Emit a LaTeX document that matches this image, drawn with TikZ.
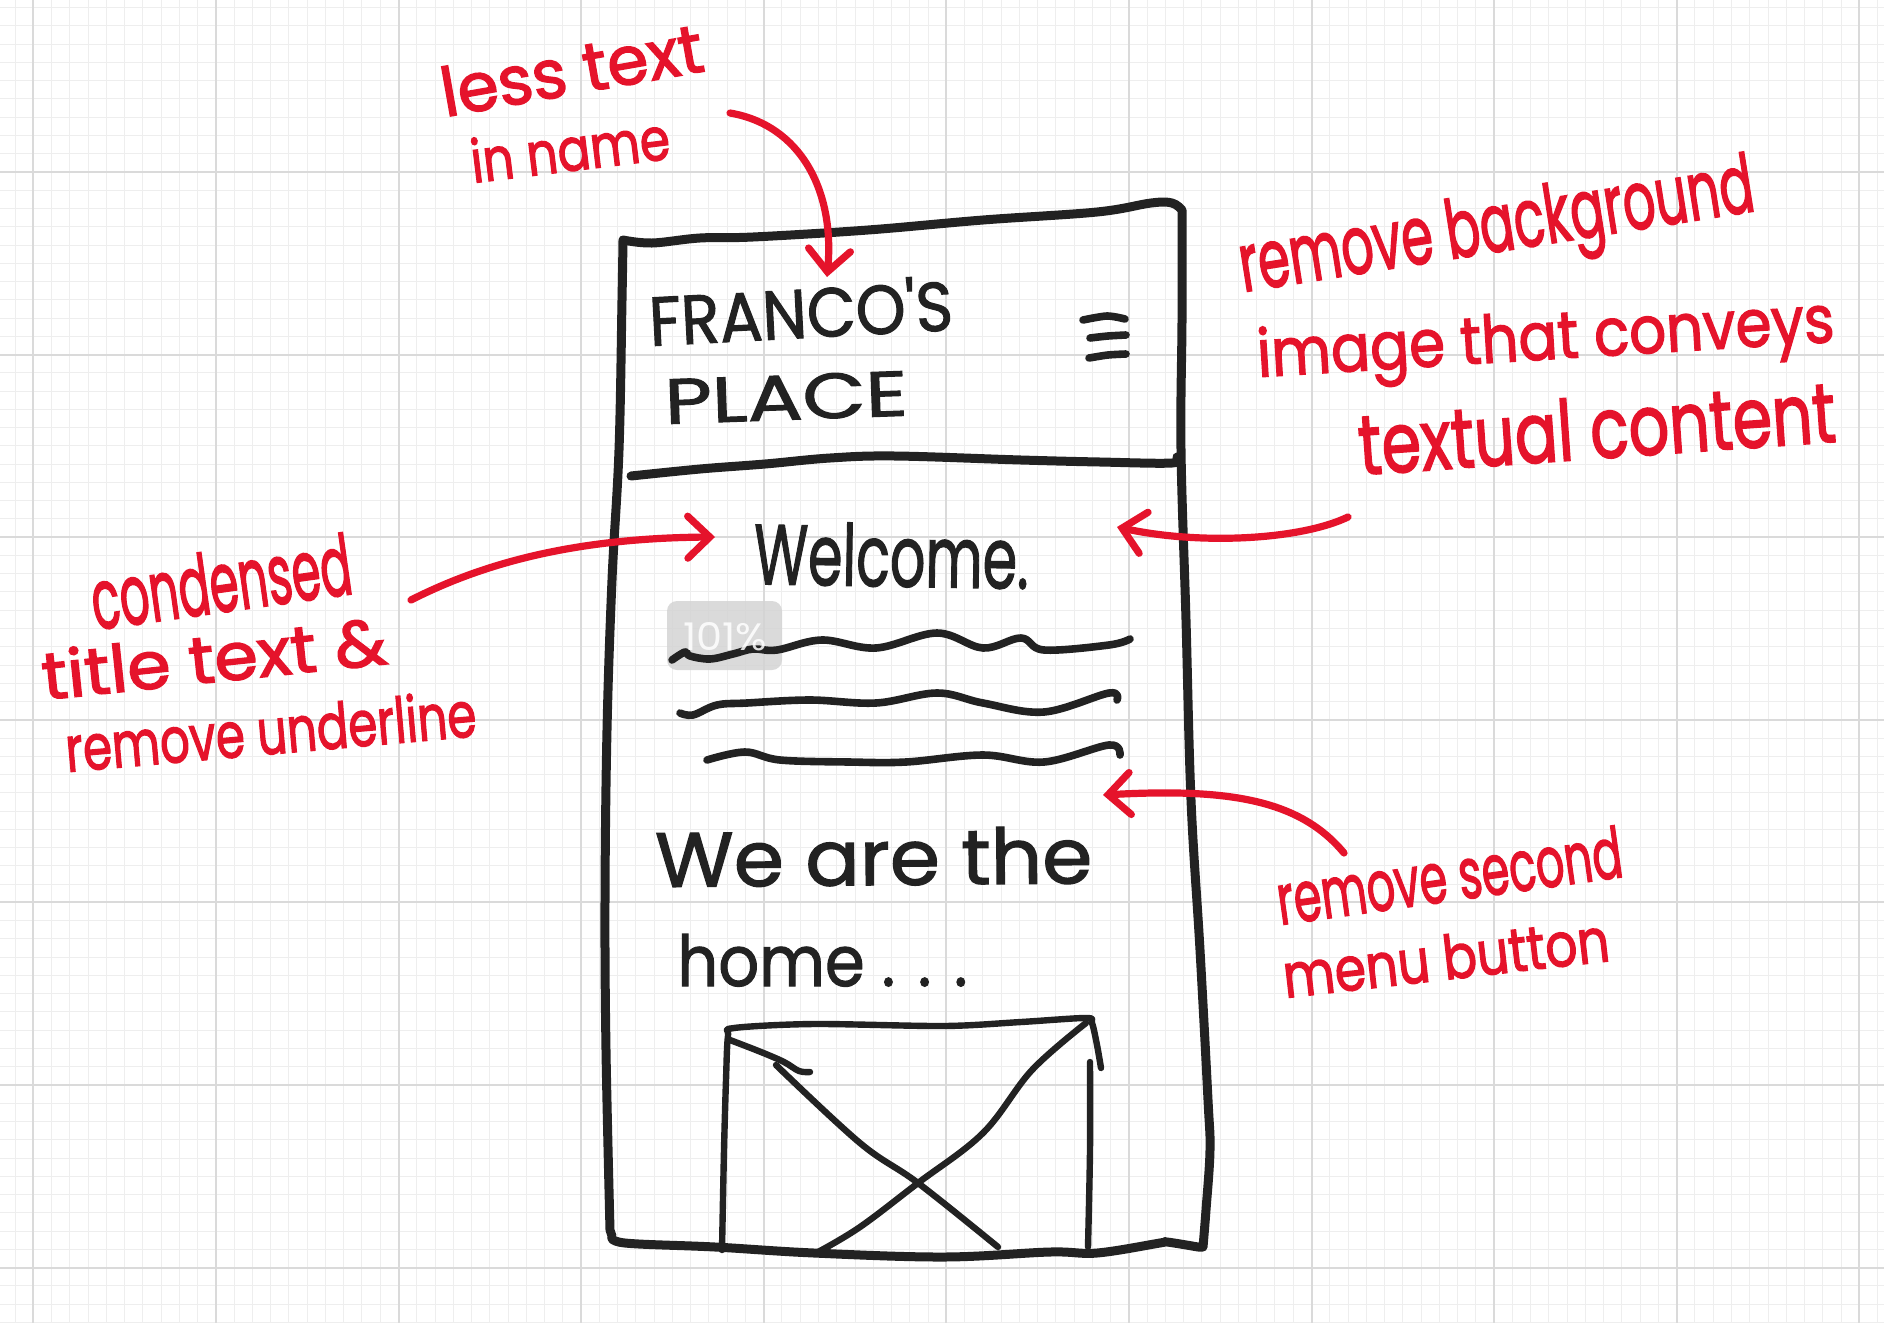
\documentclass[tikz,border=0pt]{standalone}
\usepackage{fontspec}
\setmainfont{Poppins}
\newfontfamily\markerfont{Poppins}[FakeBold=2.2]
\newfontfamily\penfont{Poppins}[FakeBold=1.6]
\usepackage{graphicx}
\usetikzlibrary{arrows.meta}

\definecolor{ink}{HTML}{222222}
\definecolor{marker}{HTML}{E5132B}
\definecolor{gridmajor}{HTML}{DADADA}
\definecolor{gridminor}{HTML}{EEEEEE}

% one drawing unit = 0.5pt; text is fitted to a given width and height in those units
\newdimen\pxu \pxu=0.5pt
\newcommand\fitbox[3]{\resizebox{#1\pxu}{#2\pxu}{#3}}

\tikzset{
  frameline/.style={draw=ink, line width=4.5pt, line cap=round, line join=round},
  boxline/.style={draw=ink, line width=3.2pt, line cap=round, line join=round},
  waveline/.style={draw=ink, line width=3.8pt, line cap=round, line join=round},
  hand/.style={text=ink, inner sep=0pt, anchor=base west, font=\penfont},
  note/.style={text=marker, inner sep=0pt, anchor=base west, font=\markerfont},
  callout/.style={draw=marker, line width=3.6pt, line cap=round, line join=round,
    -{Straight Barb[length=11pt,width=21pt,line cap=round]}},
}

\begin{document}
\begin{tikzpicture}[x=0.5pt,y=-0.5pt]
\useasboundingbox (0,0) rectangle (1884,1323);
\fill[white] (0,0) rectangle (1884,1323);

% squared paper
\foreach \i in {0,...,102} \draw[gridminor, line width=0.5pt] ({15.04+\i*18.26},0) -- ++(0,1323);
\foreach \i in {0,...,72} \draw[gridminor, line width=0.5pt] (0,{7.66+\i*18.26}) -- ++(1884,0);
\foreach \k in {0,...,10} \draw[gridmajor, line width=1pt] ({33.3+\k*182.6},0) -- ++(0,1323);
\foreach \k in {1,...,7} \draw[gridmajor, line width=1pt] (0,{-10.6+\k*182.6}) -- ++(1884,0);

% phone outline
\draw[frameline]
  plot[smooth, tension=0.6] coordinates {(623,240) (652,243) (700,238) (753,237) (868,230) (983,220) (1097,212) (1151,203) (1172,203) (1182,210)}
  -- plot[smooth, tension=0.6] coordinates {(1182,214) (1182,320) (1181,450) (1186,620) (1191,800) (1200,950) (1208,1100) (1210,1150) (1206,1210) (1203,1247)}
  -- plot[smooth, tension=0.6] coordinates {(1198,1247) (1167,1242) (1160,1243) (1097,1253) (1050,1252) (944,1257) (814,1253) (715,1247) (625,1243) (612,1236)}
  -- plot[smooth, tension=0.6] coordinates {(610,1230) (606,1050) (605,900) (607,730) (612,580) (619,450) (622,300) (623,240)};

% header divider
\draw[frameline] plot[smooth, tension=0.6] coordinates {(631,476) (700,469) (765,464) (830,458) (895,456) (1021,460) (1100,462) (1172,463) (1177,457)};

% menu icon
\draw[waveline] plot[smooth] coordinates {(1083,320) (1107,316) (1125,319)};
\draw[waveline] plot[smooth] coordinates {(1090,338) (1108,336) (1126,335)};
\draw[waveline] plot[smooth] coordinates {(1089,358) (1108,355) (1126,354)};

% header and body text
\node[hand, rotate=3] (franco) at (650,346) {\fitbox{304}{55}{FRANCO'S}};
\node[hand, rotate=2] (place) at (665,424) {\fitbox{243}{45}{PLACE}};
\node[hand, rotate=-1] (welcome) at (753,584) {\fitbox{275}{63}{Welcome.}};

% zoom badge
\fill[black!17, fill opacity=0.85, rounded corners=5pt] (667,601) rectangle (782,670);

% paragraph squiggles
\draw[waveline] plot[smooth, tension=0.6] coordinates {(672,660) (685,652) (690,656) (710,659) (733,654) (753,649) (777,650) (822,640) (876,648) (937,633) (983,648) (1021,638) (1044,650) (1109,645) (1130,639)};
\draw[waveline] plot[smooth, tension=0.6] coordinates {(680,713) (693,715) (717,705) (747,703) (810,700) (876,703) (937,693) (983,703) (1044,712) (1109,693) (1117,700)};
\draw[waveline] plot[smooth, tension=0.6] coordinates {(707,760) (745,752) (780,760) (849,762) (906,762) (983,755) (1044,762) (1109,745) (1120,755)};

\node[text=white, text opacity=0.85, inner sep=0pt] (zoomLabel) at (725,637) {\fitbox{84}{28}{101\%}};

\node[hand, rotate=0.5] (weAre) at (655,887) {\fitbox{437}{57}{We are the}};
\node[hand] (home) at (677,986) {\fitbox{290}{52}{home . . .}};

% image placeholder
\draw[boxline] plot[smooth, tension=0.5] coordinates {(722,1250) (724,1150) (726,1080) (728,1036) (734,1028) (814,1024) (944,1026) (1021,1022) (1086,1018) (1092,1023) (1097,1045) (1101,1068)};
\draw[boxline] plot[smooth, tension=0.5] coordinates {(1090,1062) (1090,1150) (1088,1247)};
\draw[boxline] plot[smooth, tension=0.6] coordinates {(730,1040) (761,1052) (784,1062) (799,1071) (810,1072)};
\draw[boxline] plot[smooth, tension=0.6] coordinates {(776,1065) (860,1143) (918,1183) (998,1247)};
\draw[boxline] plot[smooth, tension=0.6] coordinates {(1086,1023) (1032,1070) (983,1133) (918,1183) (860,1227) (818,1252)};

% notes
\node[note, rotate=10] (lessText) at (445,117) {\fitbox{265}{50}{less text}};
\node[note, rotate=7] (inName) at (473,183) {\fitbox{200}{45}{in name}};
\node[note, rotate=9] (removeBg) at (1243,292) {\fitbox{520}{60}{remove background}};
\node[note, rotate=3.5] (imageThat) at (1258,377) {\fitbox{578}{50}{image that conveys}};
\node[note, rotate=4] (textual) at (1360,475) {\fitbox{478}{62}{textual content}};
\node[note, rotate=8] (condensed) at (95,630) {\fitbox{262}{62}{condensed}};
\node[note, rotate=6] (titleText) at (44,700) {\fitbox{346}{50}{title text \&}};
\node[note, rotate=5] (removeUnder) at (67,772) {\fitbox{412}{48}{remove underline}};
\node[note, rotate=8] (removeSecond) at (1280,925) {\fitbox{348}{52}{remove second}};
\node[note, rotate=6.5] (menuButton) at (1285,998) {\fitbox{328}{45}{menu button}};

% callout arrows
\coordinate (nameTail) at (730,113);
\coordinate (nameTip) at (827,277);
\coordinate (titleTail) at (411,600);
\coordinate (titleTip) at (715,537);
\coordinate (bgTail) at (1348,517);
\coordinate (bgTip) at (1117,527);
\coordinate (menuTail) at (1344,853);
\coordinate (menuTip) at (1103,795);

\draw[callout] (nameTail) .. controls (800,125) and (835,190) .. (nameTip);
\draw[callout] (titleTail) .. controls (480,565) and (570,538) .. (titleTip);
\draw[callout] (bgTail) .. controls (1300,540) and (1200,545) .. (bgTip);
\draw[callout] (menuTail) .. controls (1300,800) and (1230,788) .. (menuTip);
\end{tikzpicture}
\end{document}
